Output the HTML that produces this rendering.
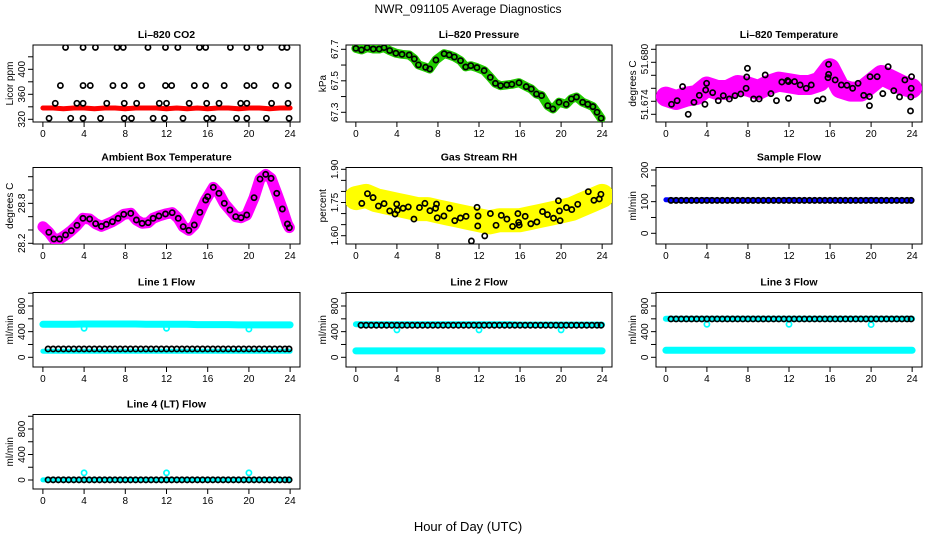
<!DOCTYPE html>
<html><head><meta charset="utf-8"><style>
body{margin:0;background:#fff}
svg text{font-family:"Liberation Sans",sans-serif;fill:#000}
</style></head><body>
<svg id="chart" width="936" height="540" xmlns="http://www.w3.org/2000/svg">
<text x="468" y="13" font-size="12" text-anchor="middle">NWR_091105  Average Diagnostics</text>
<text x="468" y="531" font-size="13" text-anchor="middle">Hour of Day (UTC)</text>
</svg>
<script>
const xTicks = [0,4,8,12,16,20,24];
const flowTimes = [0.5,1,1.5,2,2.5,3,3.5,4,4.5,5,5.5,6,6.5,7,7.5,8,8.5,9,9.5,10,10.5,11,11.5,12,12.5,13,13.5,14,14.5,15,15.5,16,16.5,17,17.5,18,18.5,19,19.5,20,20.5,21,21.5,22,22.5,23,23.5,23.9];
const hourly = [0,1,2,3,4,5,6,7,8,9,10,11,12,13,14,15,16,17,18,19,20,21,22,23,24];
const outlierTimes = [4,12,20];

const co2Times = [2.2,3.9,5.1,7.2,7.8,10.2,11.9,13.1,15.2,15.8,18.2,19.8,21.1,23.2,23.7, 1.7,3.9,4.6,6.8,7.9,9.6,11.9,12.5,14.7,15.8,17.6,19.8,20.5,22.6,23.8, 1.2,3.3,3.9,6.2,7.9,9.1,11.3,12,14.2,15.9,17.1,19.2,19.8,22.2,23.8, 0.6,2.7,3.9,5.6,7.9,8.6,10.7,11.8,13.6,15.9,16.5,18.8,19.8,21.7,23.9];
const co2Vals = [435,435,435,435,435,435,435,435,435,435,435,435,435,435,435, 374,374,374,374,374,374,374,374,374,374,374,374,374,374,374, 345.6,345.6,345.6,345.6,345.6,345.6,345.6,345.6,345.6,345.6,345.6,345.6,345.6,345.6,345.6, 321.6,321.6,321.6,321.6,321.6,321.6,321.6,321.6,321.6,321.6,321.6,321.6,321.6,321.6,321.6];
const co2Red = [338,338,337,338,338,337,338,338,337,338,338,338,337,338,337,338,337,338,338,337,338,338,337,338,338];

const presTimes = [0,0.55,1.1,1.7,2.27,2.75,3.3,3.9,4.5,5.2,5.7,6.1,6.8,7.2,7.8,8.6,9.1,9.6,10.2,10.7,11.2,11.8,12.5,13.1,13.6,14.1,14.7,15.2,15.9,16.6,17.1,17.6,18.1,18.7,19.2,19.8,20.5,21.0,21.5,22.1,22.6,23.1,23.5,23.9];
const presVals = [67.706,67.696,67.711,67.702,67.702,67.711,67.692,67.675,67.668,67.664,67.639,67.601,67.586,67.575,67.632,67.672,67.664,67.651,67.628,67.588,67.596,67.584,67.565,67.522,67.484,67.469,67.474,67.478,67.488,67.463,67.448,67.416,67.406,67.342,67.321,67.364,67.351,67.385,67.397,67.364,67.351,67.336,67.3,67.262];

const tempTimes = [0.55,1.1,1.63,2.18,2.74,3.26,3.81,3.88,3.97,4.56,5.11,5.6,6.19,6.74,7.3,7.82,7.88,7.95,8.55,9.09,9.68,10.24,10.78,11.3,11.86,11.95,11.95,12.54,13.09,13.68,14.17,14.76,15.31,15.8,15.86,15.86,16.5,17.1,17.65,18.2,18.73,19.28,19.84,19.84,19.9,20.59,21.14,21.66,22.21,22.77,23.29,23.84,23.87,23.91,23.94];
const tempVals = [51.67354,51.6741,51.67626,51.672,51.67385,51.67492,51.67354,51.67574,51.67677,51.67533,51.6741,51.67487,51.67436,51.67487,51.67513,51.676,51.67774,51.67908,51.67436,51.67436,51.67805,51.67518,51.6741,51.67697,51.67718,51.67446,51.67703,51.67703,51.67651,51.676,51.67651,51.6741,51.67436,51.67764,51.67815,51.67969,51.67728,51.67651,51.67646,51.676,51.67677,51.67492,51.67333,51.67472,51.67779,51.67779,51.67518,51.67933,51.67564,51.67467,51.67728,51.67251,51.67467,51.676,51.67779];
const tempCloud = [51.67472,51.6742,51.67472,51.67497,51.67626,51.67574,51.67574,51.67651,51.67626,51.67574,51.67651,51.67703,51.67677,51.67651,51.67651,51.67703,51.67908,51.676,51.67549,51.67549,51.67677,51.67805,51.67728,51.67651,51.676];

const ambTimes = [0,0.58,1.07,1.62,2.2,2.76,3.31,3.89,4.54,5.12,5.68,6.16,6.75,7.3,7.85,8.53,9.08,9.63,10.22,10.7,11.26,11.9,12.55,13.14,13.62,14.17,14.7,15.24,15.8,16.0,16.54,17.09,17.61,18.16,18.72,19.24,19.79,20.5,21.08,21.63,22.15,22.7,23.25,23.74,23.93];
const ambVals = [28.45,28.365,28.265,28.265,28.325,28.39,28.47,28.575,28.565,28.495,28.455,28.485,28.525,28.575,28.635,28.65,28.55,28.5,28.51,28.575,28.61,28.64,28.66,28.575,28.45,28.395,28.475,28.665,28.85,28.9,29.04,28.95,28.8,28.7,28.6,28.585,28.625,28.885,29.165,29.235,29.175,28.95,28.715,28.49,28.435];

const rhTimes = [0.58,1.13,1.68,2.2,2.75,3.3,3.82,3.98,4.05,4.6,5.11,5.66,6.2,6.73,7.22,7.77,7.86,7.93,8.58,9.13,9.64,10.19,10.74,11.26,11.81,11.88,11.91,12.56,13.11,13.66,14.17,14.72,15.27,15.79,15.86,15.92,16.5,17.05,17.64,18.19,18.67,19.26,19.74,19.84,19.9,20.52,21.04,21.62,22.65,23.2,23.72,23.88];
const rhVals = [1.746,1.79,1.772,1.734,1.745,1.712,1.698,1.743,1.715,1.724,1.73,1.675,1.727,1.746,1.713,1.724,1.743,1.681,1.689,1.724,1.668,1.68,1.6875,1.576,1.728,1.644,1.689,1.599,1.70,1.647,1.692,1.675,1.642,1.70,1.66,1.648,1.6875,1.654,1.662,1.709,1.695,1.679,1.758,1.712,1.668,1.727,1.718,1.742,1.799,1.760,1.766,1.787];
const rhCloud = [1.77,1.78,1.76,1.75,1.74,1.73,1.72,1.72,1.71,1.70,1.69,1.68,1.67,1.66,1.67,1.67,1.67,1.68,1.69,1.70,1.71,1.72,1.74,1.76,1.78];

const sampleBlack = [104,104,104,104,104,104,104,104,104,104,104,104,104,104,104,104,104,104,104,104,104,104,104,104,104,104,104,104,104,104,104,104,104,104,104,104,104,104,104,104,104,104,104,104,104,104,104,104];
const sampleBlue = [106,105,105,105,106,105,105,105,105,105,105,105,106,105,105,105,105,105,105,105,106,105,105,105,105];

const l1Black = [130,130,130,130,130,130,130,130,130,130,130,130,130,130,130,130,130,130,130,130,130,130,130,130,130,130,130,130,130,130,130,130,130,130,130,130,130,130,130,130,130,130,130,130,130,130,130,130];
const l1CyanHi = [515,515,515,515,520,520,520,520,520,520,515,515,515,515,515,510,510,510,510,505,505,505,505,505,505];
const l1CyanLo = [95,95,95,95,95,95,95,95,95,95,95,95,95,95,95,95,95,95,95,95,95,95,95,95,95];
const l1Out = [453,453,440];

const l2Black = [500,500,500,500,500,500,500,500,500,500,500,500,500,500,500,500,500,500,500,500,500,500,500,500,500,500,500,500,500,500,500,500,500,500,500,500,500,500,500,500,500,500,500,500,500,500,500,500];
const l2CyanHi = [515,515,515,515,515,515,515,515,515,515,515,515,515,515,515,515,510,510,510,510,510,510,510,510,510];
const l2CyanLo = [100,100,100,100,100,100,100,100,100,100,100,100,100,100,100,100,100,100,100,100,100,100,100,100,100];
const l2Out = [427,427,427];

const l3Black = [598,598,598,598,598,598,598,598,598,598,598,598,598,598,598,598,598,598,598,598,598,598,598,598,598,598,598,598,598,598,598,598,598,598,598,598,598,598,598,598,598,598,598,598,598,598,598,598];
const l3CyanHi = [600,600,600,600,600,600,600,600,600,600,600,600,600,600,600,600,600,600,600,600,600,600,600,600,600];
const l3CyanLo = [109,109,109,109,109,109,109,109,109,109,109,109,109,109,109,109,109,109,109,109,109,109,109,109,109];
const l3Out = [515,515,510];

const l4Black = [2,2,2,2,2,2,2,2,2,2,2,2,2,2,2,2,2,2,2,2,2,2,2,2,2,2,2,2,2,2,2,2,2,2,2,2,2,2,2,2,2,2,2,2,2,2,2,2];
const l4Cyan = [2,2,2,2,2,2,2,2,2,2,2,2,2,2,2,2,2,2,2,2,2,2,2,2,2];
const l4Out = [112,112,112];

const NS = 'http://www.w3.org/2000/svg';
const svg = document.getElementById('chart');
const COLS = [[33,300],[346,612],[656,922]];
const ROWS = [[45,122],[167.5,244],[292.5,367],[414.5,489]];

function mk(tag, attrs, parent){
  const e = document.createElementNS(NS, tag);
  for (const k in attrs) e.setAttribute(k, attrs[k]);
  (parent||svg).appendChild(e);
  return e;
}

function makePanel(col, row, key, title, ylab, refA, refB, ticks, labels){
  const [x0,x1] = COLS[col], [y0,y1] = ROWS[row];
  const g = mk('g', {});
  
  
  const pad = (x1-x0)*0.04/1.08;
  const xs = t => x0 + pad + (t/24)*(x1-x0-2*pad);
  const ys = v => refA[1] + (v-refA[0])*(refB[1]-refA[1])/(refB[0]-refA[0]);
  const box = mk('rect', {x:x0,y:y0,width:x1-x0,height:y1-y0,fill:'none',stroke:'#000','stroke-width':1}, g);
  
  
  const tt = mk('text', {x:(x0+x1)/2, y:y0-7, 'font-size':10.5, 'font-weight':'bold','text-anchor':'middle'}, g);
  tt.textContent = title;
  
  
  const yt = mk('text', {x:0,y:0,'font-size':10,'text-anchor':'middle',transform:`translate(${x0-20},${(y0+y1)/2}) rotate(-90)`}, g);
  yt.textContent = ylab;
  
  
  xTicks.forEach(t => {
    const X = xs(t);
    mk('line', {x1:X,x2:X,y1:y1,y2:y1+5,stroke:'#000'}, g);
    const l = mk('text', {x:X,y:y1+15,'font-size':10,'text-anchor':'middle'}, g);
    l.textContent = t;
    
    
  });
  ticks.forEach(v => {
    const Y = ys(v);
    mk('line', {x1:x0-5,x2:x0,y1:Y,y2:Y,stroke:'#000'}, g);
  });
  labels.forEach(lb => {
    const Y = ys(lb[0]);
    const l = mk('text', {x:0,y:0,'font-size':10,'text-anchor':'middle',transform:`translate(${x0-8},${Y}) rotate(-90)`}, g);
    l.textContent = lb[1];
    
    
  });
  const clip = 'clip-' + key;
  const cp = mk('clipPath', {id:clip}, g);
  mk('rect', {x:x0,y:y0,width:x1-x0,height:y1-y0}, cp);
  const data = mk('g', {'clip-path':`url(#${clip})`}, g);
  return {xs, ys, g:data, key};
}

function band(p, times, vals, color, w, name){
  const pts = times.map((t,i) => p.xs(t).toFixed(1)+','+p.ys(vals[i]).toFixed(1)).join(' ');
  const pl = mk('polyline', {points:pts, fill:'none', stroke:color, 'stroke-width':w, 'stroke-linejoin':'round','stroke-linecap':'round'}, p.g);
  
  
}
function dots(p, times, vals, color, name, r){
  times.forEach((t,i) => {
    const c = mk('circle', {cx:p.xs(t), cy:p.ys(vals[i]), r:r||2.6, fill:'none', stroke:color, 'stroke-width':1.7}, p.g);
    
    
  });
}

let p = makePanel(0,0,'co2','Li\u2013820 CO2','Licor ppm',[320,119.3],[400,69.3],[320,340,360,380,400,420],[[320,'320'],[360,'360'],[400,'400']]);
band(p, hourly, co2Red, '#ff0000', 5, 'co2-red-series');
dots(p, co2Times, co2Vals, '#000', 'co2-point');

p = makePanel(1,0,'pressure','Li\u2013820 Pressure','kPa',[67.3,112.3],[67.7,49.3],[67.3,67.4,67.5,67.6,67.7],[[67.3,'67.3'],[67.5,'67.5'],[67.7,'67.7']]);
band(p, presTimes, presVals, '#22cc00', 9, 'pressure-green-series');
dots(p, presTimes, presVals, '#000', 'pressure-point');

p = makePanel(2,0,'temperature','Li\u2013820 Temperature','degrees C',[51.672,114.3],[51.682,49.3],[51.672,51.674,51.676,51.678,51.68,51.682],[[51.6735,'51.674'],[51.6805,'51.680']]);
band(p, hourly, tempCloud, '#ff00ff', 20, 'temperature-magenta-series');
dots(p, tempTimes, tempVals, '#000', 'temperature-point');

p = makePanel(0,1,'ambient','Ambient Box Temperature','degrees C',[28.2,243.3],[29.2,176.7],[28.2,28.4,28.6,28.8,29.0,29.2],[[28.2,'28.2'],[28.8,'28.8']]);
band(p, ambTimes, ambVals, '#ff00ff', 11, 'ambient-magenta-series');
dots(p, ambTimes.slice(1), ambVals.slice(1), '#000', 'ambient-point');

p = makePanel(1,1,'rh','Gas Stream RH','percent',[1.6,235.7],[1.9,169.3],[1.6,1.65,1.7,1.75,1.8,1.85,1.9],[[1.6,'1.60'],[1.75,'1.75'],[1.9,'1.90']]);
band(p, hourly, rhCloud, '#ffff00', 24, 'rh-yellow-series');
dots(p, rhTimes, rhVals, '#000', 'rh-point');

p = makePanel(2,1,'sample-flow','Sample Flow','ml/min',[0,233.3],[200,170],[0,50,100,150,200],[[0,'0'],[100,'100'],[200,'200']]);
band(p, hourly, sampleBlue, '#0000ff', 5, 'sample-flow-blue-series');
dots(p, flowTimes, sampleBlack, '#000', 'sample-flow-point');

const flowTicks = [0,200,400,600,800,1000];
const flowLabels = [[0,'0'],[400,'400'],[800,'800']];
p = makePanel(0,2,'line1','Line 1 Flow','ml/min',[0,357.3],[800,306],flowTicks,flowLabels);
band(p, hourly, l1CyanHi, '#00ffff', 7, 'line1-cyan-high-series');
band(p, hourly, l1CyanLo, '#00ffff', 5, 'line1-cyan-low-series');
dots(p, outlierTimes, l1Out, '#00ffff', 'line1-outlier');
dots(p, flowTimes, l1Black, '#000', 'line1-point');

p = makePanel(1,2,'line2','Line 2 Flow','ml/min',[0,357.3],[800,306],flowTicks,flowLabels);
band(p, hourly, l2CyanHi, '#00ffff', 6, 'line2-cyan-high-series');
band(p, hourly, l2CyanLo, '#00ffff', 7, 'line2-cyan-low-series');
dots(p, outlierTimes, l2Out, '#00ffff', 'line2-outlier');
dots(p, flowTimes, l2Black, '#000', 'line2-point');

p = makePanel(2,2,'line3','Line 3 Flow','ml/min',[0,357.3],[800,306],flowTicks,flowLabels);
band(p, hourly, l3CyanHi, '#00ffff', 6, 'line3-cyan-high-series');
band(p, hourly, l3CyanLo, '#00ffff', 7, 'line3-cyan-low-series');
dots(p, outlierTimes, l3Out, '#00ffff', 'line3-outlier');
dots(p, flowTimes, l3Black, '#000', 'line3-point');

p = makePanel(0,3,'line4','Line 4 (LT) Flow','ml/min',[0,480],[800,429],flowTicks,flowLabels);
band(p, hourly, l4Cyan, '#00ffff', 5, 'line4-cyan-series');
dots(p, outlierTimes, l4Out, '#00ffff', 'line4-outlier');
dots(p, flowTimes, l4Black, '#000', 'line4-point');
</script>
</body></html>
